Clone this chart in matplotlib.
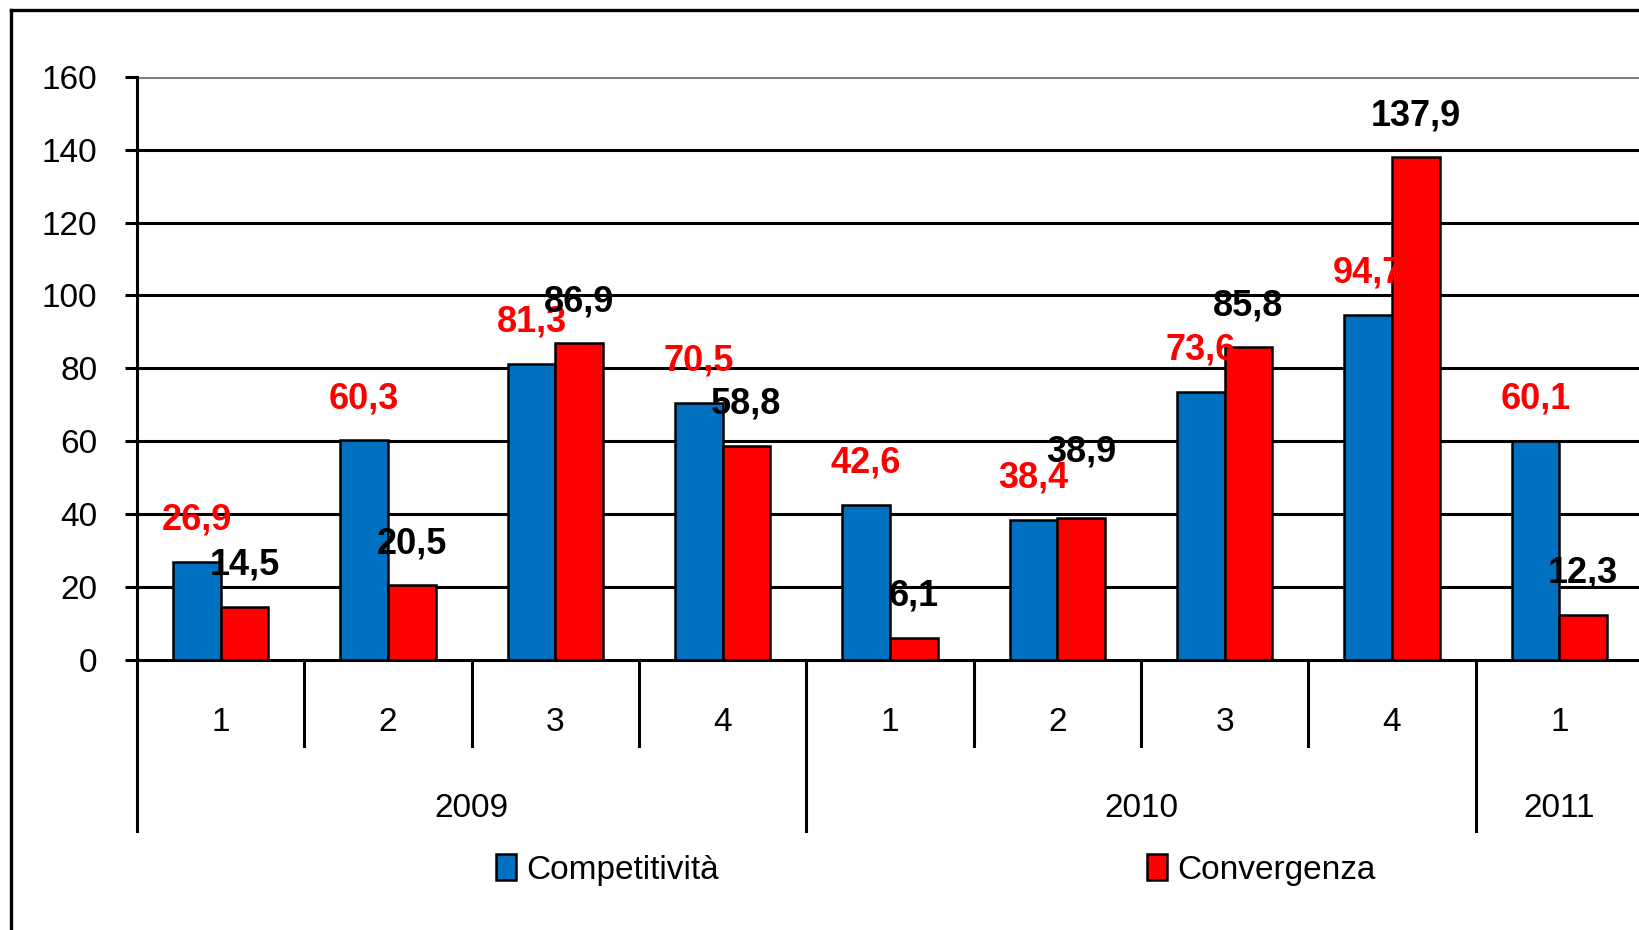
import numpy as np
import matplotlib.pyplot as plt
from matplotlib.lines import Line2D

# dati trimestrali
trimestri = ['1', '2', '3', '4', '1', '2', '3', '4', '1']
anni = ['2009', '2010', '2011']
trim_per_anno = [4, 4, 1]
competitivita = [26.9, 60.3, 81.3, 70.5, 42.6, 38.4, 73.6, 94.7, 60.1]
convergenza = [14.5, 20.5, 86.9, 58.8, 6.1, 38.9, 85.8, 137.9, 12.3]
yticks = [0, 20, 40, 60, 80, 100, 120, 140, 160]

BLU = '#0070C0'
ROSSO = '#FF0000'
LW = 2.2
plt.rcParams['font.family'] = ['Liberation Sans', 'DejaVu Sans']

fig = plt.figure(figsize=(16.39, 9.30), dpi=100)
ax = fig.add_axes([137/1639, 1-660/930, 1506/1639, (660-76.7)/930])

x = np.arange(len(trimestri))
w = 0.285
ax.bar(x - w/2, competitivita, w, color=BLU, edgecolor='black', linewidth=1.8,
       label='Competitività', zorder=3)
ax.bar(x + w/2, convergenza, w, color=ROSSO, edgecolor='black', linewidth=1.8,
       label='Convergenza', zorder=3)

# griglia orizzontale
for v in yticks[1:]:
    ax.axhline(v, color='#808080' if v == yticks[-1] else 'black', lw=LW, zorder=1)

ax.set_xlim(-0.5, len(trimestri) - 0.5)
ax.set_ylim(0, 160)
ax.set_yticks(yticks)
ax.tick_params(axis='y', direction='out', length=8.5, width=LW, pad=20, labelsize=24)
ax.set_xticks([])
for s in ['top', 'right']:
    ax.spines[s].set_visible(False)
ax.spines['left'].set_linewidth(LW)
ax.spines['bottom'].set_linewidth(LW)

# etichette valori
extra = {5: 18}  # 38,9 spostato in alto per non sovrapporsi
for i in range(len(x)):
    ax.annotate(f'{competitivita[i]:.1f}'.replace('.', ','), (x[i] - w/2, competitivita[i]),
                xytext=(0, 30), textcoords='offset points', ha='center', va='center',
                color=ROSSO, fontsize=26, fontweight='bold', zorder=5)
    ax.annotate(f'{convergenza[i]:.1f}'.replace('.', ','), (x[i] + w/2, convergenza[i]),
                xytext=(0, 30 + extra.get(i, 0)), textcoords='offset points', ha='center',
                va='center', color='black', fontsize=26, fontweight='bold', zorder=5)

# asse categorie a due livelli
tr = ax.get_xaxis_transform()
for i, t in enumerate(trimestri):
    ax.text(x[i], -0.107, t, transform=tr, ha='center', va='center', fontsize=24)
start = 0
for anno, n in zip(anni, trim_per_anno):
    ax.text(start + (n - 1) / 2, -0.254, anno, transform=tr, ha='center', va='center',
            fontsize=24)
    ax.plot([start - 0.5, start - 0.5], [0, -0.293], transform=tr, color='black',
            lw=LW, clip_on=False)
    for k in range(1, n):
        ax.plot([start + k - 0.5] * 2, [0, -0.147], transform=tr, color='black',
                lw=LW, clip_on=False)
    start += n

fig.legend(loc='center left', bbox_to_anchor=(496/1639, 1-870/930), ncol=2,
           frameon=False, fontsize=24, borderpad=0, borderaxespad=0,
           handlelength=0.6, handleheight=0.78, handletextpad=0.3,
           columnspacing=12.85)

# cornice
fig.add_artist(Line2D([11/1639, 11/1639], [0, 1-10/930], color='black', lw=2.4,
                      transform=fig.transFigure))
fig.add_artist(Line2D([11/1639, 1], [1-10/930, 1-10/930], color='black', lw=2.4,
                      transform=fig.transFigure))

fig.savefig('out.png', dpi=100)
